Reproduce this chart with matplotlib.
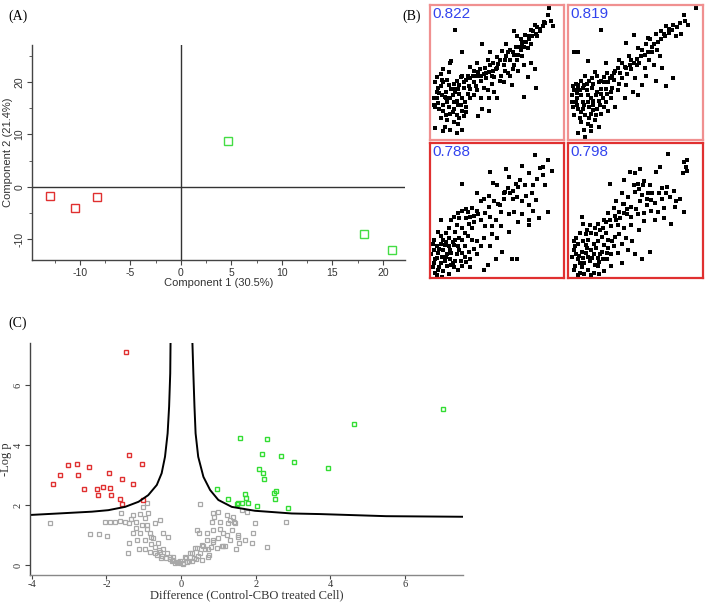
import numpy as np
import matplotlib
matplotlib.use("Agg")
import matplotlib.pyplot as plt
from matplotlib.ticker import MultipleLocator

plt.rcParams["axes.unicode_minus"] = False

SANS = "Liberation Sans"
SERIF = "Liberation Serif"

# ---- Panel A: PCA scores ----
pca_red_x = [-13.0, -10.5, -8.3]
pca_red_y = [-1.8, -4.0, -2.0]
pca_green_x = [4.7, 18.1, 20.9]
pca_green_y = [8.7, -8.9, -12.0]

# ---- Panel B: replicate scatter matrix (values on a 0-100 scale) ----
corr_labels = ["0.822", "0.819", "0.788", "0.798"]

tl_pts = [(89,102),(88,96),(90,92),(92,88),(85,91),(80,87),(78,89),(75,85),(79,82),(74,80),
          (71,81),(68,78),(69,75),(65,80),(63,84),(75,74),(73,71),(60,70),(63,66),(58,68),
          (56,62),(54,69),(50,64),(51,59),(49,55),(45,58),(43,62),(45,68),(39,74),(24,68),
          (19,85),(65,62),(69,65),(70,58),(78,55),(75,60),(79,41),(70,34),(60,50),(53,50),
          (56,54),(48,49),(44,53),(40,51),(38,46),(35,50),(33,54),(30,48),(28,50),(25,45),
          (23,49),(20,46),(18,44),(15,60),(16,61),(14,53),(10,55),(8,51),(5,49),(4,45),
          (6,41),(10,45),(14,43),(16,40),(19,38),(21,40),(25,41),(28,36),(30,33),(24,33),
          (20,31),(15,33),(11,34),(9,35),(5,38),(3,33),(3,28),(6,29),(10,28),(14,26),
          (18,25),(21,28),(24,23),(25,19),(20,20),(15,21),(10,23),(8,18),(13,16),(18,15),
          (21,13),(24,9),(20,6),(15,9),(11,11),(4,10),(10,8),(39,25),(44,23),(36,19),
          (50,33),(48,38),(43,39),(40,41),(35,39),(33,35),(38,33),(44,33),(55,45),(61,43),
          (63,58),(66,54),(73,49),(12,38),(8,42),(17,35),(22,36),(26,30),(13,30),(7,25),
          (17,22),(22,18),(27,26),(12,20),(29,42),(33,45),(37,55),(42,48),(46,44),(52,46),
          (58,52),(62,55),(35,60),(30,57),(67,72),(71,76),(82,84),(57,74),(47,60),(41,56),
          (55,58),(57,65),(60,62),(62,68),(64,72),(66,66),(68,70),(70,72),(72,76),(74,78),
          (76,80),(77,84),(80,80),(82,86),(84,88),(86,90),(50,56),(52,62),(47,54),(46,50),
          (42,52),(38,50),(36,53),(32,50),(27,47),(24,50),(22,43),(18,40),(13,47),(9,47),
          (7,37),(5,33),(4,26),(12,33),(18,30),(23,28),(27,22),(30,40),(34,42)]

tr_pts = [(96,102),(87,96),(88,92),(90,89),(79,89),(76,86),(74,88),(72,82),(70,84),(66,82),
          (62,78),(60,79),(65,74),(59,74),(56,70),(53,71),(50,81),(44,75),(26,85),(6,68),
          (9,68),(16,61),(29,60),(39,62),(46,65),(54,60),(61,62),(69,65),(71,56),(65,58),
          (59,50),(51,48),(48,55),(45,51),(41,48),(36,54),(34,50),(31,45),(28,49),(24,45),
          (21,53),(19,48),(14,50),(11,46),(9,43),(6,39),(4,35),(8,33),(11,35),(15,39),
          (19,41),(23,38),(26,40),(30,36),(34,41),(38,39),(39,44),(44,43),(53,35),(74,42),
          (36,26),(29,30),(24,31),(20,28),(16,30),(13,28),(9,25),(5,26),(6,20),(10,18),
          (14,20),(18,21),(21,16),(24,11),(16,13),(13,9),(9,6),(18,8),(14,3),(26,21),
          (31,23),(23,25),(16,35),(10,39),(49,38),(43,33),(56,43),(66,46),(79,48),(81,80),
          (85,82),(12,30),(18,33),(22,35),(27,33),(8,37),(15,44),(20,24),(25,28),(33,33),
          (11,22),(17,18),(28,45),(35,47),(43,57),(48,62),(55,65),(58,56),(68,76),(63,68),
          (52,58),(40,52),(7,30),(12,41),(58,66),(60,68),(63,72),(67,70),(70,78),(73,80),
          (76,83),(78,85),(82,87),(84,90),(50,60),(52,63),(47,58),(44,56),(41,60),(38,56),
          (35,52),(32,48),(30,52),(26,46),(23,50),(20,44),(17,46),(13,43),(9,40),(7,44),
          (5,42),(4,30),(8,28),(12,25),(17,26),(20,31),(26,36),(29,40),(33,38),(22,20),
          (18,12),(11,15),(28,26)]

bl_pts = [(78,93),(88,89),(84,84),(82,83),(91,81),(74,79),(69,85),(57,82),(45,80),(24,71),
          (47,72),(50,70),(59,76),(64,71),(66,69),(60,64),(56,65),(55,60),(65,61),(69,58),
          (76,64),(79,59),(74,55),(77,51),(88,50),(81,45),(74,44),(69,48),(63,50),(59,48),
          (53,50),(49,44),(45,46),(41,49),(38,44),(35,51),(31,53),(28,50),(24,51),(21,49),
          (18,46),(16,44),(8,44),(35,64),(40,60),(29,41),(24,38),(19,35),(26,34),(31,38),
          (41,39),(46,39),(53,39),(59,35),(66,42),(74,40),(38,24),(35,18),(45,24),(54,20),
          (49,14),(43,10),(40,6),(61,14),(65,14),(30,8),(26,16),(31,29),(24,29),(3,29),
          (3,21),(4,14),(6,6),(9,1),(5,24),(8,26),(10,29),(14,30),(6,19),(10,21),
          (14,24),(18,25),(21,24),(9,16),(13,18),(16,19),(20,18),(11,13),(15,14),(19,13),
          (23,13),(13,9),(18,8),(21,6),(10,5),(24,19),(4,4),(8,11),(5,15),(15,21),
          (11,25),(19,29),(16,10),(24,9),(14,3),(26,24),(29,20),(7,22),(12,16),(17,11),
          (22,21),(3,11),(7,8),(12,27),(17,27),(27,45),(33,47),(44,54),(51,56),(62,60),
          (55,64),(58,68),(62,66),(67,74),(71,70),(72,62),(77,70),(80,75),(84,78),(86,70),
          (52,55),(48,58),(44,62),(38,58),(36,48),(33,42),(30,46),(27,52),(22,45),(20,40),
          (14,38),(12,34),(8,32),(6,35),(2,26),(1,18),(2,8),(5,2),(27,12),(30,14),
          (33,22),(22,30),(28,32),(35,28),(40,30),(46,33),(50,30)]

br_pts = [(74,94),(88,89),(87,84),(88,81),(85,79),(68,84),(65,80),(53,82),(49,79),(45,80),
          (41,74),(30,71),(51,71),(56,73),(60,70),(69,68),(73,69),(59,64),(54,63),(49,65),
          (44,61),(39,64),(35,58),(41,56),(46,54),(53,58),(61,59),(69,60),(75,61),(80,58),
          (86,50),(79,54),(71,53),(66,50),(61,51),(56,49),(51,48),(46,46),(41,49),(38,45),
          (33,53),(29,49),(26,44),(21,41),(25,38),(31,39),(36,40),(41,38),(46,40),(56,43),
          (64,44),(71,45),(76,41),(9,46),(10,41),(13,36),(16,34),(20,33),(24,31),(29,29),
          (34,31),(39,26),(33,24),(36,19),(44,21),(49,18),(54,14),(60,20),(39,11),(21,9),
          (26,5),(31,9),(3,21),(4,24),(6,26),(10,28),(14,29),(18,26),(21,28),(26,25),
          (5,18),(9,20),(13,23),(16,21),(20,23),(24,20),(28,19),(6,14),(10,15),(14,16),
          (18,18),(21,15),(25,14),(11,11),(15,13),(19,10),(9,8),(14,6),(18,4),(8,4),
          (4,9),(29,23),(31,18),(7,17),(12,19),(17,15),(22,12),(8,11),(12,25),(23,18),
          (27,34),(35,44),(43,48),(50,52),(58,55),(48,70),(52,67),(55,70),(58,60),(62,64),
          (64,57),(67,64),(72,64),(78,66),(83,60),(86,88),(43,52),(40,56),(37,50),(34,47),
          (30,44),(27,42),(23,36),(19,38),(15,40),(12,33),(8,34),(5,30),(3,28),(2,16),
          (3,6),(6,2),(11,3),(16,2),(22,3),(28,14),(32,28),(37,33),(42,30),(47,28),(52,36)]

# ---- Panel C: volcano plot ----
red_x = [-1.47, -1.39, -1.06, -3.02, -2.78, -2.47, -3.24, -2.76, -3.44, -1.93, -1.57,
         -1.28, -2.61, -2.25, -2.10, -1.91, -2.23, -1.87, -1.65, -1.59, -1.03]
red_y = [7.11, 3.67, 3.36, 3.32, 3.38, 3.26, 3.01, 2.99, 2.71, 3.06, 2.87,
         2.69, 2.52, 2.52, 2.60, 2.58, 2.34, 2.32, 2.20, 2.02, 2.17]

green_x = [1.57, 2.31, 2.17, 2.67, 3.04, 3.95, 2.08, 2.19, 2.22, 0.96, 1.71, 1.73,
           1.25, 2.55, 2.50, 2.52, 1.49, 1.54, 1.63, 1.79, 2.04, 2.87, 4.63, 7.03]
green_y = [4.23, 4.19, 3.71, 3.62, 3.42, 3.23, 3.21, 3.08, 2.86, 2.54, 2.37, 2.24,
           2.19, 2.47, 2.39, 2.21, 2.04, 2.07, 2.08, 2.07, 1.96, 1.90, 4.70, 5.19]

gray_pts = [(-3.51,1.41),(-2.44,1.02),(-2.04,1.42),(-1.90,1.43),(-1.77,1.44),(-1.64,1.46),
            (-1.50,1.42),(-1.39,1.39),(-2.19,1.02),(-1.99,0.97),(-1.62,1.72),(-1.43,0.39),
            (-1.39,0.72),(-1.28,1.67),(-1.10,1.70),(-1.01,1.94),(-0.92,2.06),(-0.97,1.56),
            (-0.88,1.72),(-1.05,1.33),(-0.92,1.33),(-0.70,1.39),(-0.56,1.50),(-1.28,1.08),
            (-1.10,1.06),(-0.83,1.08),(-0.49,1.08),(-0.36,0.94),(-1.19,0.83),(-0.97,0.83),
            (-0.74,0.89),(-0.61,0.72),(-1.14,0.52),(-0.97,0.55),(-0.83,0.45),(-0.70,0.39),
            (-0.56,0.45),(-0.48,0.55),(-0.39,0.39),(-0.29,0.28),(-0.21,0.17),(-0.12,0.11),
            (-0.03,0.06),(-0.08,0.11),(-0.21,0.28),(-0.50,0.30),(-0.40,0.25),(-0.30,0.20),
            (-0.25,0.15),(-0.15,0.08),(-0.65,0.35),(-0.55,0.25),(-0.80,0.70),(-0.70,0.60),
            (-0.60,0.50),(-0.90,1.20),(-1.20,1.25),(-0.80,0.95),(-1.35,1.55),(-1.20,1.45),
            (0.51,2.03),(0.49,1.06),(0.87,1.72),(1.00,1.78),(1.22,1.67),(1.31,1.50),
            (1.40,1.61),(1.45,1.39),(1.64,1.83),(1.76,1.76),(1.98,1.41),(2.30,0.61),
            (2.82,1.44),(1.72,0.83),(1.47,0.52),(1.30,0.83),(1.54,0.92),(1.13,0.64),
            (0.87,0.83),(0.69,0.83),(0.60,0.64),(0.42,0.56),(0.29,0.39),(0.14,0.22),
            (0.06,0.08),(0.51,0.39),(0.74,0.33),(0.96,0.56),(1.22,1.00),(1.36,1.17),
            (1.13,1.06),(1.00,0.89),(0.87,1.17),(0.69,1.06),(0.42,1.17),(0.89,1.61),
            (0.84,1.42),(1.05,1.42),(1.27,1.39),(1.41,1.42),(1.05,1.19),(1.54,1.00),
            (1.94,1.06),(1.55,0.74),(1.89,0.74),(1.18,0.63),(1.09,0.63),(0.87,0.78),
            (0.73,0.52),(0.55,0.67),(0.38,0.56),(0.24,0.39),(0.11,0.28),(-0.03,0.14),
            (0.55,0.17),(0.73,0.28),(0.05,0.03),(0.15,0.10),(0.20,0.12),(0.35,0.25),
            (0.45,0.30),(0.65,0.55),(0.80,0.60),(0.30,0.15),(0.40,0.20)]

# significance threshold curve
curve_left_x = [-4.05, -3.29, -2.39, -1.95, -1.50, -1.14, -0.88, -0.65, -0.52, -0.43,
                -0.36, -0.32, -0.29, -0.28]
curve_left_y = [1.67, 1.72, 1.78, 1.83, 1.94, 2.11, 2.33, 2.67, 3.06, 3.61,
                4.39, 5.28, 6.39, 7.60]
curve_right_x = [0.30, 0.33, 0.36, 0.39, 0.46, 0.60, 0.78, 1.00, 1.36, 1.98,
                 2.97, 3.73, 5.50, 7.60]
curve_right_y = [7.60, 6.39, 5.28, 4.39, 3.61, 2.94, 2.50, 2.17, 1.94, 1.81,
                 1.72, 1.70, 1.63, 1.61]

W, H = 711, 605
fig = plt.figure(figsize=(W / 100, H / 100), dpi=100)


def box(l, t, r, b):
    return [l / W, 1 - b / H, (r - l) / W, (b - t) / H]


def style_axes(ax, family):
    for s in ["top", "right"]:
        ax.spines[s].set_visible(False)
    for s in ["left", "bottom"]:
        ax.spines[s].set_color("#444444")
        ax.spines[s].set_linewidth(1.0)
    ax.tick_params(which="both", direction="out", colors="#444444", labelsize=7.5, pad=2)
    ax.tick_params(which="major", length=3.5)
    ax.tick_params(which="minor", length=2)
    for lab in ax.get_xticklabels() + ax.get_yticklabels():
        lab.set_fontfamily(family)
        lab.set_color("#333333")


# Panel A
axA = fig.add_axes(box(32, 45, 405, 260))
axA.set_xlim(-14.75, 22.2)
axA.set_ylim(-13.9, 27)
axA.axhline(0, color="#333333", lw=1.0)
axA.axvline(0, color="#333333", lw=1.0)
axA.plot(pca_red_x, pca_red_y, "s", ms=6, mfc="none", mec="#e03030", mew=1.0)
axA.plot(pca_green_x, pca_green_y, "s", ms=6, mfc="none", mec="#44dd44", mew=1.0)
axA.xaxis.set_major_locator(MultipleLocator(5))
axA.xaxis.set_minor_locator(MultipleLocator(2.5))
axA.yaxis.set_major_locator(MultipleLocator(10))
axA.yaxis.set_minor_locator(MultipleLocator(5))
style_axes(axA, SANS)
for lab in axA.get_yticklabels():
    lab.set_rotation(90)
    lab.set_va("center")
axA.set_xlabel("Component 1 (30.5%)", fontfamily=SANS, fontsize=8, color="#333333")
axA.set_ylabel("Component 2 (21.4%)", fontfamily=SANS, fontsize=8, color="#333333")
axA.xaxis.set_label_coords(0.5, -0.085)
axA.yaxis.set_label_coords(-0.052, 0.5)
fig.text(8 / W, 1 - 16 / H, "(A)", fontfamily=SERIF, fontsize=10, va="center")

# Panel B
b_boxes = [(430, 5, 564, 140), (568, 5, 703, 140), (430, 143, 564, 278), (568, 143, 703, 278)]
b_data = [tl_pts, tr_pts, bl_pts, br_pts]
b_xlim = [(0, 100), (1.25, 101), (0, 100), (-1.25, 100)]
b_ylim = [(1, 104), (1, 104), (0, 102), (0, 102)]
b_edge = ["#f09090", "#f09090", "#e03030", "#e03030"]
for i in range(4):
    ax = fig.add_axes(box(*b_boxes[i]))
    pts = np.array(b_data[i])
    ax.plot(pts[:, 0], pts[:, 1], "s", ms=3.0, color="black", mew=0)
    ax.set_xlim(*b_xlim[i])
    ax.set_ylim(*b_ylim[i])
    ax.set_xticks([])
    ax.set_yticks([])
    for s in ax.spines.values():
        s.set_color(b_edge[i])
        s.set_linewidth(1.6)
    ax.text(0.02, 0.985, corr_labels[i], transform=ax.transAxes, ha="left", va="top",
            fontfamily=SANS, fontsize=11, color="#3344ee")
fig.text(402 / W, 1 - 16 / H, "(B)", fontfamily=SERIF, fontsize=10, va="center")

# Panel C
axC = fig.add_axes(box(30, 343, 463, 575))
axC.set_xlim(-4.05, 7.56)
axC.set_ylim(-0.33, 7.4)
gp = np.array(gray_pts)
axC.plot(gp[:, 0], gp[:, 1], "s", ms=3.4, mfc="none", mec="#a8a8a8", mew=0.9)
axC.plot(red_x, red_y, "s", ms=3.4, mfc="none", mec="#e03030", mew=1.0)
axC.plot(green_x, green_y, "s", ms=3.4, mfc="none", mec="#33dd33", mew=1.0)
axC.plot(curve_left_x, curve_left_y, color="black", lw=1.4)
axC.plot(curve_right_x, curve_right_y, color="black", lw=1.4)
axC.set_xticks([-4, -2, 0, 2, 4, 6])
axC.set_yticks([0, 2, 4, 6])
style_axes(axC, SERIF)
axC.tick_params(axis="x", pad=0.5, length=3)
axC.spines["bottom"].set_color("#888888")
for lab in axC.get_yticklabels():
    lab.set_rotation(90)
    lab.set_va("center")
axC.set_xlabel("Difference (Control-CBO treated Cell)", fontfamily=SERIF, fontsize=9,
               color="#333333")
axC.set_ylabel("-Log p", fontfamily=SERIF, fontsize=9, color="#333333")
axC.xaxis.set_label_coords(0.5, -0.062)
axC.yaxis.set_label_coords(-0.042, 0.5)
fig.text(8 / W, 1 - 323 / H, "(C)", fontfamily=SERIF, fontsize=10, va="center")

fig.savefig("out.png", dpi=100)
